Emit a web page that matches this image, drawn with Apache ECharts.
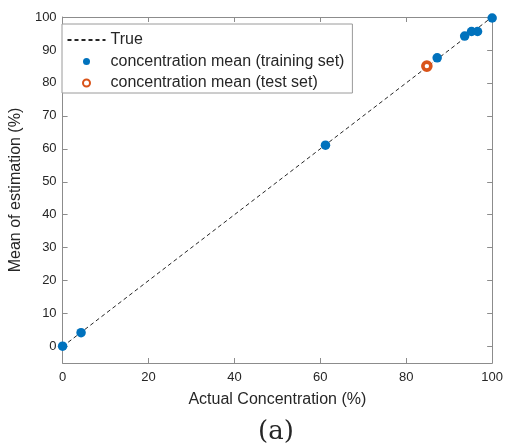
<!DOCTYPE html>
<html>
<head>
<meta charset="utf-8">
<script src="https://cdn.jsdelivr.net/npm/echarts@6/dist/echarts.min.js"></script>
<style>html,body{margin:0;padding:0;background:#fff}#c{width:506px;height:443px}</style>
</head>
<body>
<div id="c"></div>
<script>
// Data
const trueLine = [[0, 0], [100, 100]];
const trainActual = [0, 4.3, 61.2, 87.2, 93.6, 95.2, 96.6, 100];
const trainEstimate = [0.1, 4.2, 61.1, 87.6, 94.2, 95.6, 95.6, 99.7];
const testActual = [84.8];
const testEstimate = [85.1];
const xTicks = [0, 20, 40, 60, 80, 100];
const yTicks = [0, 10, 20, 30, 40, 50, 60, 70, 80, 90, 100];
const legendNames = ['True', 'concentration mean (training set)', 'concentration mean (test set)'];

const pair = (a, b) => a.map((v, i) => [v, b[i]]);

const axisColor = '#8c8c8c';
const textColor = '#262626';
const font = 'Liberation Sans, Arial, sans-serif';

const chart = echarts.init(document.getElementById('c'), null, {renderer: 'canvas'});
chart.setOption({
  animation: false,
  backgroundColor: '#fff',
  grid: {left: 58, top: 17, width: 437.5, height: 346, containLabel: false},
  xAxis: [{
    type: 'value', min: 0, max: 100, interval: 20,
    name: 'Actual Concentration (%)', nameLocation: 'middle', nameGap: 29,
    nameTextStyle: {fontSize: 16, color: textColor, fontFamily: font},
    axisLine: {onZero: false, lineStyle: {color: axisColor, width: 1}},
    axisTick: {inside: true, length: 5, lineStyle: {color: axisColor}, customValues: xTicks},
    axisLabel: {margin: 8, fontSize: 13, color: textColor, fontFamily: font, customValues: xTicks},
    splitLine: {show: false}
  }, {
    type: 'value', position: 'top', min: 0, max: 100, interval: 20,
    axisLine: {onZero: false, lineStyle: {color: axisColor, width: 1}},
    axisTick: {inside: true, length: 5, lineStyle: {color: axisColor}},
    axisLabel: {show: false}, splitLine: {show: false}
  }],
  yAxis: [{
    type: 'value', min: -5, max: 100,
    name: 'Mean of estimation (%)', nameLocation: 'middle', nameGap: 30,
    nameTextStyle: {fontSize: 16, color: textColor, fontFamily: font},
    axisLine: {onZero: false, lineStyle: {color: axisColor, width: 1}},
    axisTick: {inside: true, length: 5, lineStyle: {color: axisColor}, customValues: yTicks},
    axisLabel: {margin: 6, fontSize: 13, color: textColor, fontFamily: font, customValues: yTicks},
    splitLine: {show: false}
  }, {
    type: 'value', position: 'right', min: -5, max: 100,
    axisLine: {onZero: false, lineStyle: {color: axisColor, width: 1}},
    axisTick: {inside: true, length: 5, lineStyle: {color: axisColor}, customValues: yTicks},
    axisLabel: {show: false, customValues: yTicks}, splitLine: {show: false}
  }],
  legend: {
    orient: 'vertical', left: 62, top: 24,
    padding: [8, 8, 2, 4.5],
    itemWidth: 38, itemHeight: 7, itemGap: 5.5,
    borderColor: '#9a9a9a', borderWidth: 1, backgroundColor: '#fff',
    textStyle: {fontSize: 16, color: textColor, fontFamily: font},
    data: [
      {name: legendNames[0], itemStyle: {opacity: 0}},
      {name: legendNames[1], icon: 'circle'},
      {name: legendNames[2], icon: 'circle'}
    ]
  },
  series: [{
    name: legendNames[0], type: 'line', data: trueLine,
    symbol: 'none', silent: true,
    lineStyle: {color: '#262626', width: 1, type: [4, 3]},
    itemStyle: {color: '#262626'}, z: 1
  }, {
    name: legendNames[1], type: 'scatter', data: pair(trainActual, trainEstimate),
    symbol: 'circle', symbolSize: 9.5,
    itemStyle: {color: '#0072BD', opacity: 1}, z: 3
  }, {
    name: legendNames[2], type: 'scatter', data: pair(testActual, testEstimate),
    symbol: 'circle', symbolSize: 8,
    itemStyle: {color: '#ffffff', borderColor: '#D95319', borderWidth: 3.6, opacity: 1}, z: 3
  }],
  graphic: [{
    type: 'text', x: 276, y: 432,
    style: {text: '(a)', font: '26px "DejaVu Serif", serif', fill: textColor, textAlign: 'center', textVerticalAlign: 'middle'}
  }]
});
</script>
</body>
</html>
